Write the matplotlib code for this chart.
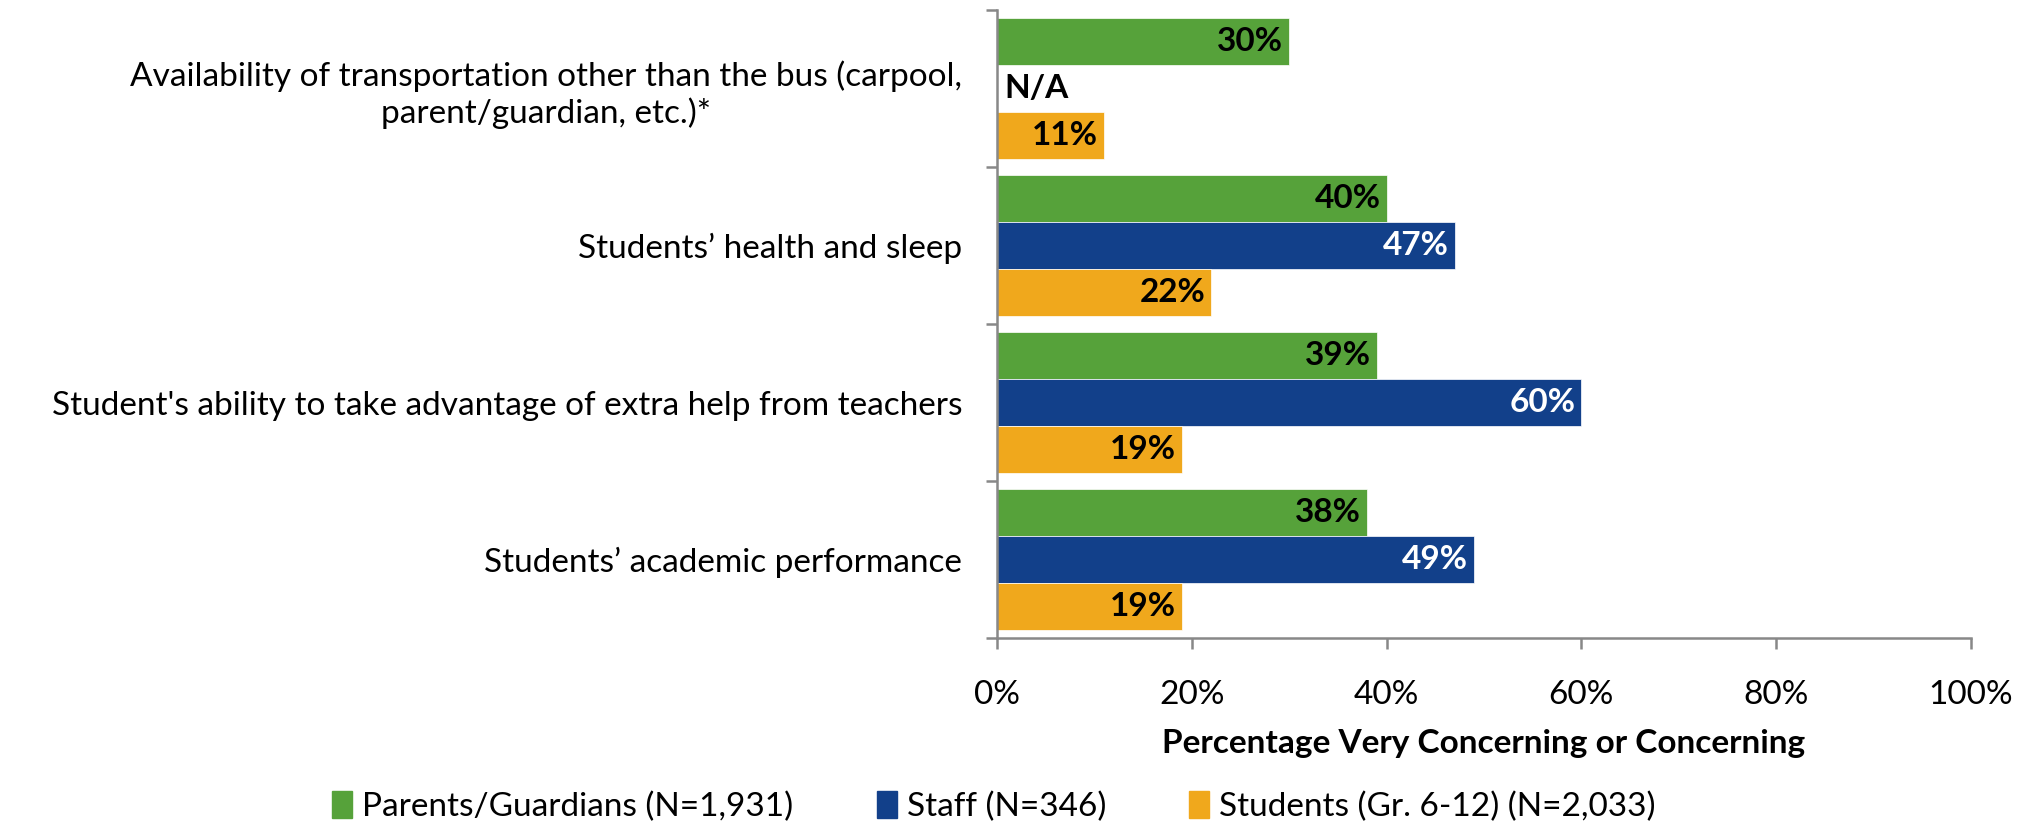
import numpy as np
import matplotlib.pyplot as plt

plt.rcParams['font.family'] = ['Lato', 'DejaVu Sans']

categories = [
    "Availability of transportation other than the bus (carpool,\nparent/guardian, etc.)*",
    "Students\u2019 health and sleep",
    "Student's ability to take advantage of extra help from teachers",
    "Students\u2019 academic performance",
]
parents = [30, 40, 39, 38]
staff = [None, 47, 60, 49]
students = [11, 22, 19, 19]
series_names = ["Parents/Guardians (N=1,931)", "Staff (N=346)", "Students (Gr. 6-12) (N=2,033)"]
colors = ["#56A23A", "#12408A", "#F0A81C"]
label_colors = ["black", "white", "black"]

fs = 24

fig = plt.figure(figsize=(20.33, 8.26), dpi=100)
ax = fig.add_axes([0.4904, 0.2276, 0.479, 0.7598])

y = np.arange(len(categories))
h = 0.3
offsets = [-h, 0, h]
handles = []
for vals, off, col, lc, name in zip([parents, staff, students], offsets, colors, label_colors, series_names):
    for i, v in enumerate(vals):
        if v is None:
            ax.text(0.8, y[i] + off, "N/A", ha='left', va='center', fontsize=fs,
                    fontweight='bold', color='black')
            continue
        ax.barh(y[i] + off, v, height=h, color=col, edgecolor='white', linewidth=0.5)
        ax.text(v - 0.6, y[i] + off, f"{v}%", ha='right', va='center', fontsize=fs,
                fontweight='bold', color=lc)
    handles.append(plt.Rectangle((0, 0), 1, 1, color=col))

ax.set_xlim(0, 100)
ax.set_ylim(len(categories) - 0.5, -0.5)
ax.set_xticks(np.arange(0, 101, 20))
ax.set_xticklabels([f"{t}%" for t in range(0, 101, 20)], fontsize=fs)
ax.set_yticks(y)
ax.set_yticklabels(categories, fontsize=fs, multialignment='center')
ax.set_yticks(np.arange(-0.5, len(categories)), minor=True)
ax.tick_params(axis='y', which='major', length=0, pad=25)
ax.tick_params(axis='y', which='minor', length=8, color='#888888', width=1.8, direction='out')
ax.tick_params(axis='x', length=8, color='#888888', width=1.8, pad=22)
for s in ['top', 'right']:
    ax.spines[s].set_visible(False)
for s in ['left', 'bottom']:
    ax.spines[s].set_color('#888888')
    ax.spines[s].set_linewidth(1.8)

ax.set_xlabel("Percentage Very Concerning or Concerning", fontsize=fs,
              fontweight='bold', labelpad=14)

fig.legend(handles, series_names, loc='center', bbox_to_anchor=(0.489, 0.024), ncol=3,
           frameon=False, fontsize=fs, handlelength=0.6, handleheight=0.9,
           handletextpad=0.3, columnspacing=2.5)

fig.savefig("out.png", dpi=100)
